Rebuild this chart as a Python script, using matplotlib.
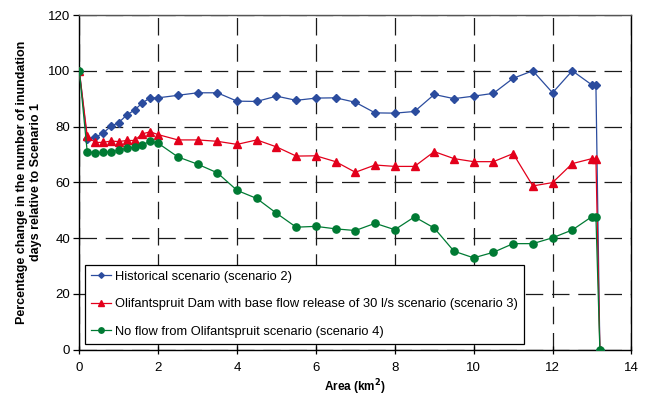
import matplotlib
matplotlib.use('Agg')
import matplotlib.pyplot as plt

# ── Data ──────────────────────────────────────────────────────────────────────
area = [0, 0.2, 0.4, 0.6, 0.8, 1.0, 1.2, 1.4, 1.6, 1.8, 2.0, 2.5, 3.0, 3.5,
        4.0, 4.5, 5.0, 5.5, 6.0, 6.5, 7.0, 7.5, 8.0, 8.5, 9.0, 9.5, 10.0,
        10.5, 11.0, 11.5, 12.0, 12.5, 13.0, 13.1, 13.2]

historical = [100, 75.5, 76.1, 77.6, 80.1, 81.4, 84.1, 85.9, 88.5, 90.3,
              90.3, 91.2, 92.1, 92.1, 89.1, 89.0, 90.9, 89.4, 90.2, 90.3,
              88.7, 84.9, 84.8, 85.4, 91.5, 90.0, 90.9, 91.9, 97.3, 100,
              92.1, 100, 94.9, 94.9, 0]

dam_release = [100, 76.6, 74.3, 74.3, 74.8, 74.6, 75.0, 75.0, 77.4, 78.1,
               77.1, 75.2, 75.2, 74.7, 73.6, 75.2, 72.7, 69.4, 69.5, 67.4,
               63.6, 66.2, 65.7, 65.7, 71.0, 68.5, 67.4, 67.4, 70.3, 58.7,
               59.9, 66.7, 68.5, 68.5, 0]

no_flow = [100, 71.0, 70.6, 70.7, 71.0, 71.5, 72.2, 72.5, 73.5, 74.7,
           74.0, 69.1, 66.5, 63.4, 57.1, 54.2, 48.9, 43.9, 44.2, 43.3,
           42.7, 45.3, 43.0, 47.6, 43.6, 35.3, 32.9, 34.9, 38.0, 38.0,
           40.1, 42.9, 47.7, 47.7, 0]

labels = ["Historical scenario (scenario 2)",
          "Olifantspruit Dam with base flow release of 30 l/s scenario (scenario 3)",
          "No flow from Olifantspruit scenario (scenario 4)"]

BLUE  = "#2B4C9E"
RED   = "#E3001B"
GREEN = "#007A33"

plt.rcParams['font.family'] = ['Liberation Sans', 'DejaVu Sans']

fig = plt.figure(figsize=(6.48, 4.0), dpi=100)
ax = fig.add_axes([0.1224, 0.126, 0.852, 0.8365])

ax.plot(area, historical, color=BLUE, lw=0.9, marker="D", ms=3.8,
        label=labels[0], zorder=3)
ax.plot(area, dam_release, color=RED, lw=0.9, marker="^", ms=5.4,
        label=labels[1], zorder=4)
ax.plot(area, no_flow, color=GREEN, lw=0.9, marker="o", ms=5.2,
        label=labels[2], zorder=5)

ax.set_xlim(0, 14)
ax.set_ylim(0, 120)
ax.set_xticks(range(0, 15, 2))
ax.set_yticks(range(0, 121, 20))
ax.tick_params(axis="x", direction="inout", length=6, width=0.9,
               labelsize=9.5, pad=6)
ax.tick_params(axis="y", direction="out", length=4, width=0.9,
               labelsize=9.5, pad=2.5)

ax.grid(True, color="#1a1a1a", lw=0.9, dashes=(14, 7))
ax.set_axisbelow(True)
for side in ["left", "bottom", "right"]:
    ax.spines[side].set_color("black")
    ax.spines[side].set_linewidth(1.0)
ax.spines["top"].set_color("#555555")
ax.spines["top"].set_linewidth(1.0)

ax.set_xlabel("Area (km$^\\mathbf{2}$)", fontsize=8.5, fontweight="bold",
              labelpad=2.5)
ax.set_ylabel("Percentage change in the number of inundation\n"
              "days relative to Scenario 1", fontsize=9, fontweight="bold",
              labelpad=4, linespacing=1.3)

leg = ax.legend(loc="lower left", bbox_to_anchor=(0.01, 0.018),
                fontsize=9.3, frameon=True, fancybox=False,
                edgecolor="black", framealpha=1, handlelength=1.6,
                handletextpad=0.3, labelspacing=1.2, borderpad=0.45,
                borderaxespad=0, markerscale=0.75)
leg.get_frame().set_linewidth(0.9)

fig.savefig("out.png", dpi=100)
